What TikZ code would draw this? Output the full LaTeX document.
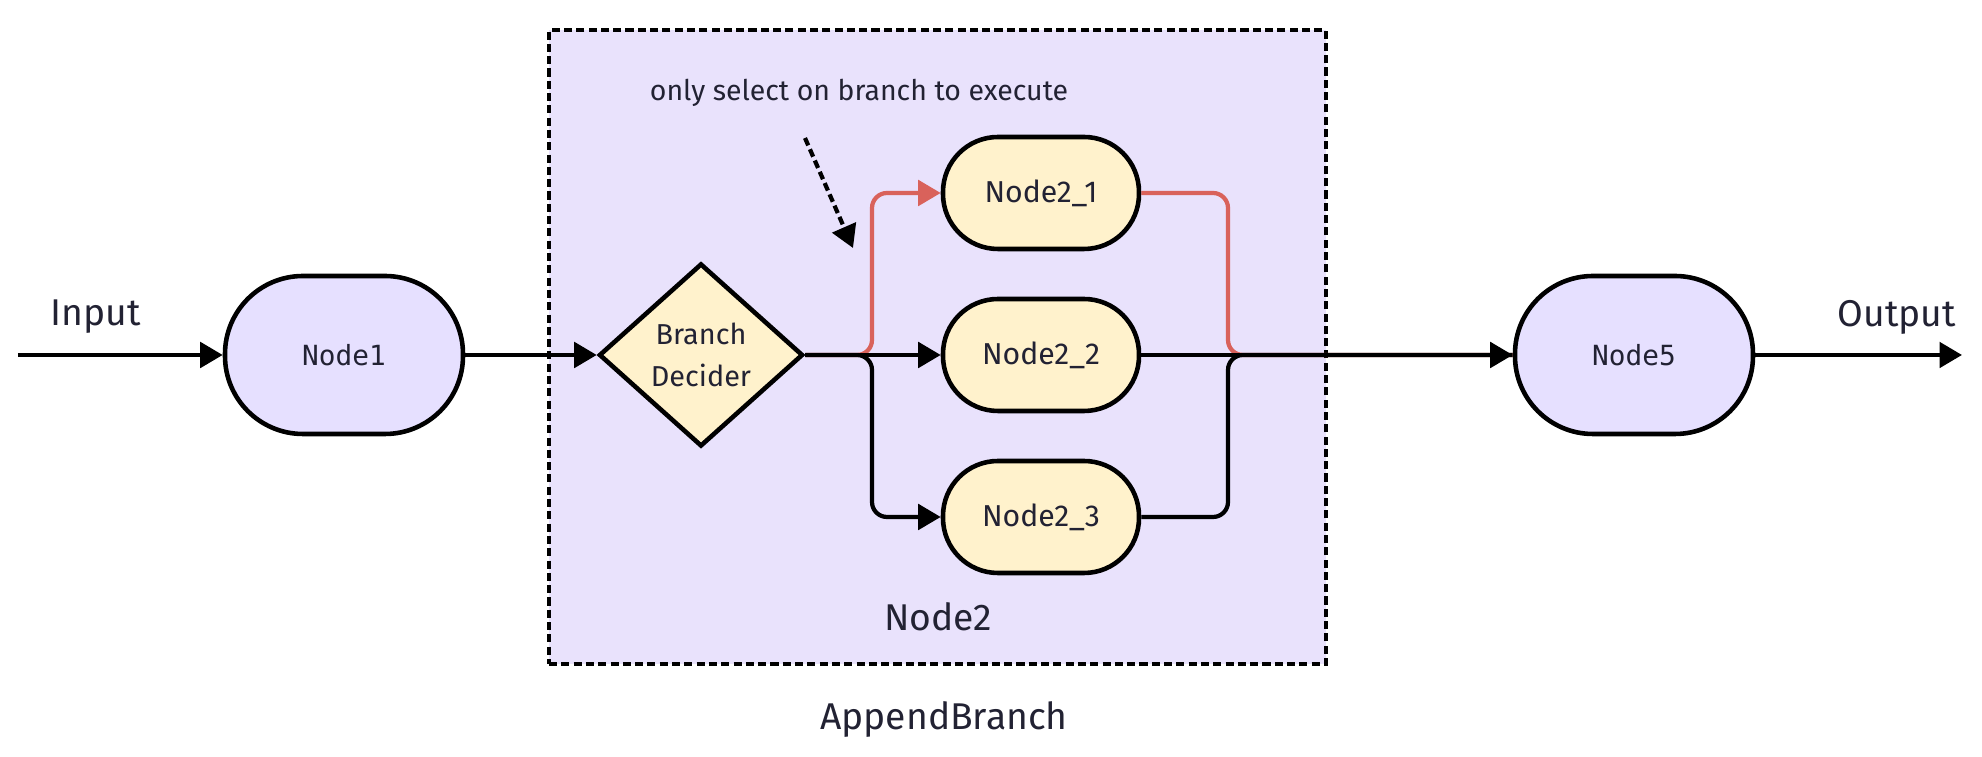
\documentclass[tikz,border=0pt]{standalone}
\usepackage{fontspec}
\setmainfont{Fira Sans}
\newfontfamily\monofont{DejaVu Sans Mono}
\usetikzlibrary{arrows.meta,shapes.geometric}
\definecolor{boxfill}{HTML}{E9E2FC}
\definecolor{termfill}{HTML}{E6E0FF}
\definecolor{stepfill}{HTML}{FFF2CC}
\definecolor{hot}{HTML}{D9625B}
\definecolor{ink}{HTML}{222233}

\begin{document}
\begin{tikzpicture}[
    line width=1.2pt,
    flow/.style={-{Triangle[length=6.4pt,width=7.2pt]}},
    joint/.style={rounded corners=0.15cm},
    term/.style={rectangle,rounded corners=0.78cm,draw,line width=1.3pt,fill=termfill,
        minimum width=2.38cm,minimum height=1.58cm,text=ink,
        font=\monofont\fontsize{7.9}{9}\selectfont},
    branch/.style={rectangle,rounded corners=0.55cm,draw,line width=1.3pt,fill=stepfill,
        minimum width=1.96cm,minimum height=1.12cm,text=ink,
        font=\fontsize{8.6}{10}\selectfont},
    decider/.style={diamond,draw,line width=1.3pt,fill=stepfill,inner sep=0pt,
        minimum width=2.04cm,minimum height=1.83cm,text=ink,align=center,
        font=\fontsize{8.2}{11.8}\selectfont},
    groupbox/.style={draw,fill=boxfill,dash pattern=on 2.3pt off 1.2pt,
        minimum width=7.77cm,minimum height=6.34cm},
    caption/.style={text=ink,font=\fontsize{10.6}{12}\selectfont}
  ]
    \useasboundingbox[fill=white] (0,3.55) rectangle (19.82,-4.02);

    \coordinate (in) at (0.18,0);
    \coordinate (out) at (19.62,0);
    \coordinate (split) at (8.72,0);
    \coordinate (merge) at (12.28,0);
    \coordinate (hintA) at (8.05,2.17);
    \coordinate (hintB) at (8.53,1.07);

    \node[groupbox] (grp) at (9.375,0.08) {};

    \node[term] (node1) at (3.44,0) {Node1};
    \node[decider] (dec) at (7.01,0) {Branch\\Decider};
    \node[branch] (n21) at (10.41,1.62) {Node2\_1};
    \node[branch] (n22) at (10.41,0) {Node2\_2};
    \node[branch] (n23) at (10.41,-1.62) {Node2\_3};
    \node[term] (node5) at (16.34,0) {Node5};

    \node[caption] (inlbl) at (0.96,0.38) {Input};
    \node[caption] (outlbl) at (18.97,0.38) {Output};
    \node[caption] (grplbl) at (9.38,-2.62) {Node2};
    \node[caption] (applbl) at (9.44,-3.65) {AppendBranch};
    \node[text=ink,font=\fontsize{8.1}{9}\selectfont] (hint) at (8.59,2.62)
        {only select on branch to execute};

    % selected branch first, plain lines on top
    \draw[flow,joint,hot] (dec.east) -- (split) |- (n21.west);
    \draw[joint,hot] (n21.east) -| (merge) -- (node5.west);
    \draw[joint] (n23.east) -| (merge) -- (node5.west);
    \draw[flow,joint] (dec.east) -- (split) |- (n23.west);

    \draw[flow] (in) -- (node1);
    \draw[flow] (node1) -- (dec);
    \draw[flow] (dec) -- (n22);
    \draw[flow] (n22) -- (node5);
    \draw[flow] (node5) -- (out);
    \draw[flow,dash pattern=on 2.3pt off 1.2pt] (hintA) -- (hintB);
\end{tikzpicture}
\end{document}
